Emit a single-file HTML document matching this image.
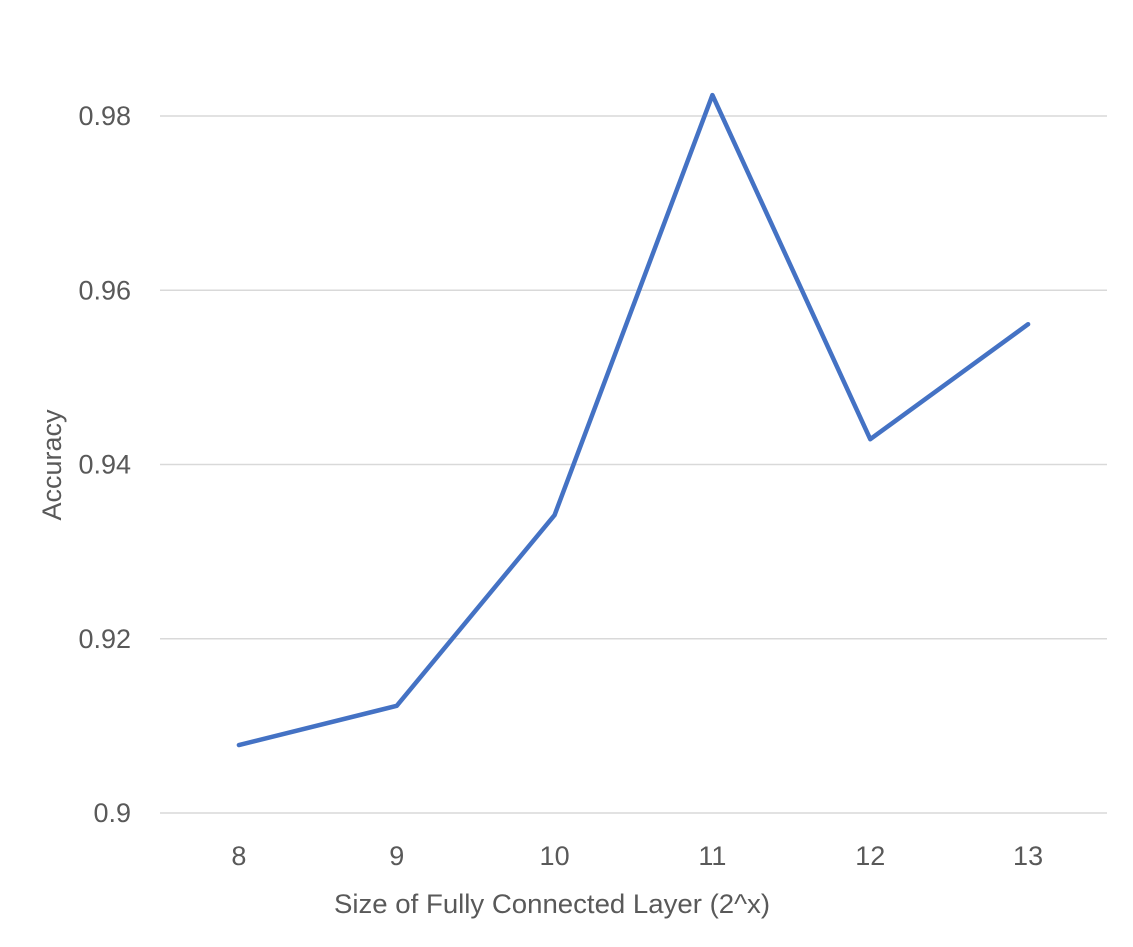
<!DOCTYPE html>
<html><head><meta charset="utf-8">
<style>
html,body{margin:0;padding:0;background:#fff;}
svg{display:block;font-family:"Liberation Sans",sans-serif;}
</style></head>
<body>
<svg id="chart" width="1133" height="947">
  <g id="grid"></g>
  <g id="ylabels"></g>
  <g id="xlabels"></g>
  <path id="series" fill="none" stroke="#4472C4" stroke-width="4.5" stroke-linejoin="round" stroke-linecap="round"/>
  <text x="552" y="913" text-anchor="middle" font-size="27" fill="#595959" textLength="436" lengthAdjust="spacingAndGlyphs">Size of Fully Connected Layer (2^x)</text>
  <text transform="translate(61,465) rotate(-90)" text-anchor="middle" font-size="27" fill="#595959">Accuracy</text>
</svg>
<script>
const categories = [8, 9, 10, 11, 12, 13];
const accuracy = [0.9078, 0.9123, 0.9342, 0.9824, 0.9429, 0.9561];
const yTicks = [0.9, 0.92, 0.94, 0.96, 0.98];
const yTickLabels = ["0.9", "0.92", "0.94", "0.96", "0.98"];

const plotL = 160, plotR = 1107, yMin = 0.9, yMax = 0.98, pxMin = 813, pxMax = 116;
function xPos(i){ return plotL + (i + 0.5) * (plotR - plotL) / categories.length; }
function yPos(v){ return pxMin + (v - yMin) / (yMax - yMin) * (pxMax - pxMin); }
const NS = "http://www.w3.org/2000/svg";
const grid = document.getElementById('grid');
const yl = document.getElementById('ylabels');
const xl = document.getElementById('xlabels');
yTicks.forEach((t, i) => {
  const ln = document.createElementNS(NS, 'line');
  
  
  ln.setAttribute('x1', plotL); ln.setAttribute('x2', plotR);
  ln.setAttribute('y1', yPos(t)); ln.setAttribute('y2', yPos(t));
  ln.setAttribute('stroke', '#d9d9d9'); ln.setAttribute('stroke-width', '1.5');
  grid.appendChild(ln);
  const tx = document.createElementNS(NS, 'text');
  
  
  tx.setAttribute('x', 131); tx.setAttribute('y', yPos(t) + 9);
  tx.setAttribute('text-anchor', 'end'); tx.setAttribute('font-size', '27');
  tx.setAttribute('fill', '#595959');
  tx.textContent = yTickLabels[i];
  yl.appendChild(tx);
});
categories.forEach((c, i) => {
  const tx = document.createElementNS(NS, 'text');
  
  
  tx.setAttribute('x', xPos(i)); tx.setAttribute('y', 865);
  tx.setAttribute('text-anchor', 'middle'); tx.setAttribute('font-size', '27');
  tx.setAttribute('fill', '#595959');
  tx.textContent = c;
  xl.appendChild(tx);
});
document.getElementById('series').setAttribute('d',
  accuracy.map((v, i) => (i ? 'L' : 'M') + xPos(i) + ' ' + yPos(v)).join(' '));
</script>
</body></html>
